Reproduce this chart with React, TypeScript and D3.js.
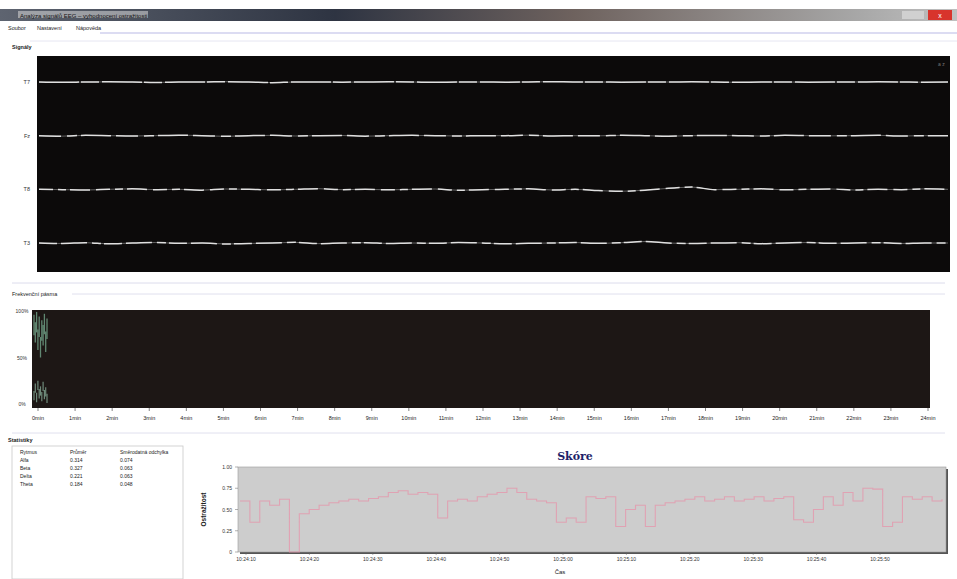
import React from "react";
import * as d3 from "d3";

// window / layout
const W = 957;
const H = 579;

// signal panel
const channels: string[] = ["T7", "Fz", "T8", "T3"];
const trace1: number[] = [0, 0.2, 0, -0.1, 0, 0.3, 0, 0, -0.2, 0, 0.4, 0, 0, 0.1, 0, -0.1, 0, 0.2, 0, 0, 0.1, 0, -0.2, 0, 0, 0.1, 0, 0, -0.1, 0, 0.2, 0, 0, 0.1, 0, 0, -0.1, 0, 0.1, 0];
const trace2: number[] = [0, 0.3, -0.2, 0, 0.2, 0, -0.3, 0, 0.4, 0, -0.2, 0.2, 0, -0.1, 0.3, 0, -0.2, 0, 0.2, 0, 0, -0.3, 0.2, 0, 0.1, -0.2, 0, 0.3, 0, -0.1, 0, 0.2, -0.2, 0, 0.1, 0, -0.2, 0.2, 0, 0];
const trace3: number[] = [0, 0.2, 0.4, 0, -0.3, 0.2, 0, 0.5, -0.2, 0, 0.3, 0, -0.4, 0.2, 0, 0.3, 0, -0.2, 0.6, 0.2, 0, -0.3, 0.4, 0, 0.8, 1.2, 0.5, -0.6, -1.4, 0.2, 0, -0.3, 0.3, 0, -0.2, 0.4, 0, 0.2, -0.3, 0];
const trace4: number[] = [0, 0.3, -0.2, 0.5, 0, -0.3, 0.2, 0, 0.6, 0.3, 0, -0.4, 0.4, 0, -0.2, 0.3, 0, 0.2, -0.3, 0, 0.5, 0.2, 0, -0.3, 0.2, -0.2, -0.9, 0, 0.3, 0, -0.2, 0.4, 0, -0.3, 0.2, 0, -0.2, 0.3, 0, 0];
const traces: number[][] = [trace1, trace2, trace3, trace4];
const traceDash: string[] = ["40 2 18 3", "22 6 10 4 30 5", "14 5 8 4 20 6", "18 4 26 5 9 3"];

// band-power panel
const minuteLabels: string[] = ["0min", "1min", "2min", "3min", "4min", "5min", "6min", "7min", "8min", "9min", "10min", "11min", "12min", "13min", "14min", "15min", "16min", "17min", "18min", "19min", "20min", "21min", "22min", "23min", "24min"];
const bandTicks: string[] = ["0%", "50%", "100%"];
const greenTop: number[] = [96, 88, 99, 80, 94, 72, 90, 85, 97, 78, 92];
const greenLow: number[] = [4, 12, 2, 15, 6, 9, 3, 14, 5, 8, 1];

// statistics table
const statHeader: string[] = ["Rytmus", "Průměr", "Směrodatná odchylka"];
const statRhythm: string[] = ["Alfa", "Beta", "Delta", "Theta"];
const statMean: string[] = ["0.314", "0.327", "0.221", "0.184"];
const statSd: string[] = ["0.074", "0.063", "0.063", "0.048"];

// score chart
const scoreTicks: number[] = [0, 0.25, 0.5, 0.75, 1];
const timeLabels: string[] = ["10:24:10", "10:24:20", "10:24:30", "10:24:40", "10:24:50", "10:25:00", "10:25:10", "10:25:20", "10:25:30", "10:25:40", "10:25:50"];
const scores: number[] = [0.6, 0.35, 0.6, 0.55, 0.62, 0.0, 0.45, 0.5, 0.55, 0.58, 0.6, 0.62, 0.6, 0.63, 0.65, 0.7, 0.72, 0.68, 0.7, 0.68, 0.4, 0.6, 0.62, 0.6, 0.65, 0.68, 0.7, 0.75, 0.7, 0.62, 0.6, 0.58, 0.35, 0.4, 0.35, 0.65, 0.63, 0.65, 0.3, 0.5, 0.55, 0.3, 0.55, 0.58, 0.6, 0.62, 0.65, 0.6, 0.62, 0.65, 0.6, 0.62, 0.65, 0.6, 0.63, 0.65, 0.38, 0.35, 0.5, 0.65, 0.55, 0.7, 0.6, 0.75, 0.74, 0.3, 0.35, 0.65, 0.62, 0.65, 0.6, 0.62];

const font = "'Liberation Sans', Arial, sans-serif";

export default function App(): React.ReactElement {
  // --- signal panel scales
  const sig = {x0: 37, x1: 950, y0: 56, y1: 272};
  const chanY = d3.scalePoint<string>().domain(channels).range([82, 243]);
  const sigX = d3.scaleLinear().domain([0, trace1.length - 1]).range([sig.x0 + 2, sig.x1 - 2]);

  // --- band panel scales
  const band = {x0: 32, x1: 930, y0: 310, y1: 408};
  const minX = d3.scaleLinear().domain([0, 24]).range([38, 928]);
  const pctY = d3.scaleLinear().domain([0, 100]).range([band.y1 - 4, band.y0 + 1]);
  const greenX = d3.scaleLinear().domain([0, greenTop.length - 1]).range([34, 47]);

  // --- score chart
  const sc = {x0: 238, x1: 946, y0: 467, y1: 552};
  const scoreX = d3.scaleLinear().domain([0, scores.length - 1]).range([sc.x0 + 2, sc.x1 - 4]);
  const scoreY = d3.scaleLinear().domain([0, 1]).range([sc.y1, sc.y0]);
  const timeX = d3.scalePoint<string>().domain(timeLabels).range([246, 880]);
  const scoreLine = d3.line<number>().x((d, i) => scoreX(i)).y((d) => scoreY(d)).curve(d3.curveStepAfter);

  return (
    <svg width={W} height={H} style={{position: "absolute", left: 0, top: 0, background: "#fff"}} fontFamily={font}>
      <defs>
        <linearGradient id="titlebar" x1="0" x2="1" y1="0" y2="0">
          <stop offset="0" stopColor="#5e6470" />
          <stop offset="0.35" stopColor="#2e3442" />
          <stop offset="0.6" stopColor="#6e625e" />
          <stop offset="0.9" stopColor="#a8a8a8" />
          <stop offset="1" stopColor="#c0c0c0" />
        </linearGradient>
      </defs>

      {/* title bar */}
      <rect x={0} y={9} width={W} height={12} fill="url(#titlebar)" />
      <rect x={18} y={11} width={130} height={7} fill="#d8d8d8" opacity={0.55} />
      <text x={20} y={17.5} fontSize={6} fill="#111">Analýza signálů EEG – vyhodnocení ostražitosti</text>
      <rect x={902} y={11} width={22} height={8} fill="#d0d0d0" />
      <rect x={928} y={10} width={24} height={10} fill="#d8342c" />
      <text x={940} y={18} fontSize={7} fill="#fff" textAnchor="middle">x</text>

      {/* menu */}
      <text x={8} y={30} fontSize={5.5} fill="#222">Soubor</text>
      <text x={37} y={30} fontSize={5.5} fill="#222">Nastavení</text>
      <text x={76} y={30} fontSize={5.5} fill="#222">Nápověda</text>
      <line x1={100} x2={W} y1={33} y2={33} stroke="#dcdcf2" strokeWidth={2} />
      <line x1={30} x2={W} y1={41} y2={41} stroke="#e6e6f2" strokeWidth={1} />

      {/* signal group */}
      <text x={12} y={49} fontSize={5.5} fill="#222" fontWeight="bold">Signály</text>
      <rect x={sig.x0} y={sig.y0} width={sig.x1 - sig.x0} height={sig.y1 - sig.y0} fill="#0c0a0a" />
      <text x={938} y={66} fontSize={5} fill="#777">a z</text>
      {channels.map((c, ci) => {
        const base = chanY(c) as number;
        const line = d3.line<number>().x((d, i) => sigX(i)).y((d) => base + d * 1.6).curve(d3.curveMonotoneX);
        return (
          <g key={c}>
            <text x={30} y={base + 2} fontSize={5.5} fill="#333" textAnchor="end">{c}</text>
            <path d={line(traces[ci]) ?? ""} fill="none" stroke="#9a9a9a" strokeWidth={1} opacity={0.6} />
            <path d={line(traces[ci]) ?? ""} fill="none" stroke="#f0f0f0" strokeWidth={1.5} strokeDasharray={traceDash[ci]} opacity={0.9} />
          </g>
        );
      })}

      <line x1={12} x2={945} y1={283} y2={283} stroke="#dcdcec" strokeWidth={1} />

      {/* band power group */}
      <text x={12} y={296} fontSize={5.5} fill="#222">Frekvenční pásma</text>
      <line x1={72} x2={945} y1={294} y2={294} stroke="#e0e0ee" strokeWidth={1} />
      <rect x={band.x0} y={band.y0} width={band.x1 - band.x0} height={band.y1 - band.y0} fill="#1d1715" />
      {bandTicks.map((t) => {
        const v = parseInt(t, 10);
        return (
          <text key={t} x={22} y={pctY(v) + 2} fontSize={5} fill="#333" textAnchor="middle">{t}</text>
        );
      })}
      {greenTop.map((v, i) => (
        <line key={"gt" + i} x1={greenX(i)} x2={greenX(i)} y1={pctY(v)} y2={pctY(v - 22)} stroke="#7fb89a" strokeWidth={1.3} opacity={0.7} />
      ))}
      {greenLow.map((v, i) => (
        <line key={"gl" + i} x1={greenX(i)} x2={greenX(i)} y1={pctY(v)} y2={pctY(v + 10)} stroke="#9ac8b0" strokeWidth={1.2} opacity={0.65} />
      ))}
      {minuteLabels.map((m, i) => (
        <g key={m}>
          <line x1={minX(i)} x2={minX(i)} y1={band.y1} y2={band.y1 + 3} stroke="#333" strokeWidth={0.6} />
          <text x={minX(i)} y={420} fontSize={5.5} fill="#222" textAnchor="middle">{m}</text>
        </g>
      ))}

      <line x1={12} x2={945} y1={433} y2={433} stroke="#e0e0ee" strokeWidth={1} />

      {/* statistics group */}
      <text x={8} y={442} fontSize={5.5} fill="#222" fontWeight="bold">Statistiky</text>
      <rect x={12} y={446} width={171} height={133} fill="#fff" stroke="#c8c8c8" strokeWidth={0.8} />
      {statHeader.map((h, i) => (
        <text key={h} x={[20, 70, 120][i]} y={454} fontSize={5} fill="#222">{h}</text>
      ))}
      {statRhythm.map((r, i) => (
        <g key={r}>
          <text x={20} y={462 + i * 8} fontSize={5} fill="#222">{r}</text>
          <text x={70} y={462 + i * 8} fontSize={5} fill="#222">{statMean[i]}</text>
          <text x={120} y={462 + i * 8} fontSize={5} fill="#222">{statSd[i]}</text>
        </g>
      ))}

      {/* score chart */}
      <text x={575} y={460} fontSize={11} fontWeight="bold" fill="#1c2268" fontFamily="'DejaVu Serif', serif" textAnchor="middle">Skóre</text>
      <rect x={sc.x0 + 2} y={sc.y0 + 2} width={sc.x1 - sc.x0} height={sc.y1 - sc.y0} fill="#555" />
      <rect x={sc.x0} y={sc.y0} width={sc.x1 - sc.x0} height={sc.y1 - sc.y0} fill="#cdcdcd" stroke="#9a9a9a" strokeWidth={0.6} />
      <path d={scoreLine(scores) ?? ""} fill="none" stroke="#e890a8" strokeWidth={1.1} opacity={0.7} />
      {scoreTicks.map((t) => (
        <g key={t}>
          <line x1={sc.x0 - 3} x2={sc.x0} y1={scoreY(t)} y2={scoreY(t)} stroke="#666" strokeWidth={0.5} />
          <text x={sc.x0 - 6} y={scoreY(t) + 2} fontSize={5} fill="#333" textAnchor="end">{t === 0 ? "0" : t.toFixed(2)}</text>
        </g>
      ))}
      <text transform={`translate(206, ${(sc.y0 + sc.y1) / 2}) rotate(-90)`} fontSize={6.5} fontWeight="bold" fill="#222" textAnchor="middle">Ostražitost</text>
      {timeLabels.map((t) => (
        <g key={t}>
          <line x1={timeX(t) as number} x2={timeX(t) as number} y1={sc.y1} y2={sc.y1 + 3} stroke="#666" strokeWidth={0.5} />
          <text x={timeX(t) as number} y={561} fontSize={5} fill="#333" textAnchor="middle">{t}</text>
        </g>
      ))}
      <text x={560} y={574} fontSize={6} fill="#222" textAnchor="middle">Čas</text>
    </svg>
  );
}
